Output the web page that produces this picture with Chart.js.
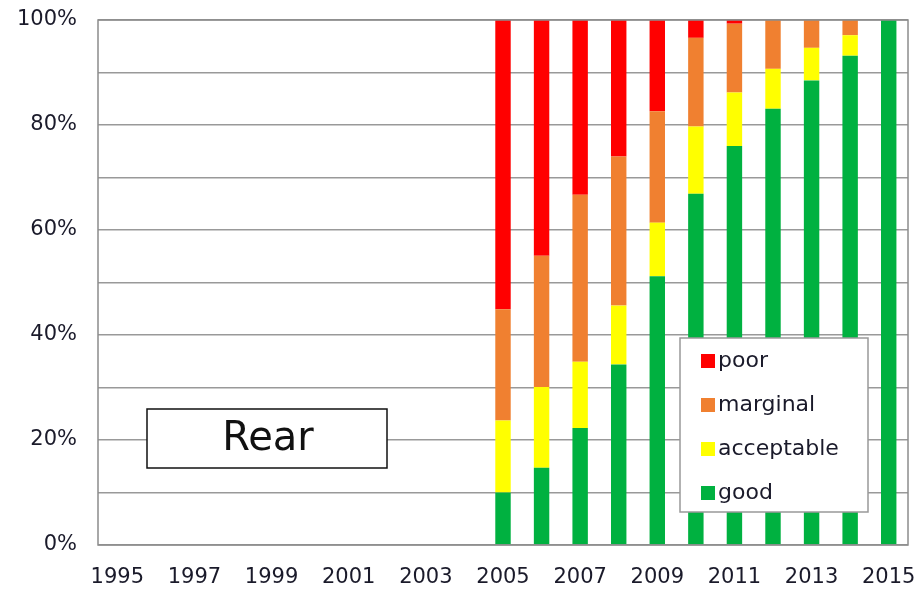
<!DOCTYPE html>
<html>
<head>
<meta charset="utf-8">
<script src="https://cdn.jsdelivr.net/npm/chart.js@4/dist/chart.umd.min.js"></script>
<style>
  html, body { margin: 0; padding: 0; background: #fff; }
  #wrap { width: 918px; height: 590px; position: relative; }
</style>
</head>
<body>
<div id="wrap"><canvas id="chart" width="918" height="590"></canvas></div>
<script>
// Kategorier (år)
const years = ["1995","1996","1997","1998","1999","2000","2001","2002","2003","2004",
               "2005","2006","2007","2008","2009","2010","2011","2012","2013","2014","2015"];

// Andelar i procent per betyg
const good       = [null,null,null,null,null,null,null,null,null,null, 10.0, 14.7, 22.3, 34.4, 51.2, 66.9, 76.0, 83.1, 88.5, 93.2, 100];
const acceptable = [null,null,null,null,null,null,null,null,null,null, 13.7, 15.4, 12.6, 11.2, 10.2, 12.8, 10.2,  7.6,  6.2,  3.9,   0];
const marginal   = [null,null,null,null,null,null,null,null,null,null, 21.2, 25.0, 31.8, 28.4, 21.2, 16.9, 13.1,  9.3,  5.3,  2.9,   0];
const poor       = [null,null,null,null,null,null,null,null,null,null, 55.1, 44.9, 33.3, 26.0, 17.4,  3.4,  0.7,  0,    0,    0,     0];

const yTicks = [0, 20, 40, 60, 80, 100];
const legendOrder = ["poor", "marginal", "acceptable", "good"];

const colors = {
    good: "#00b140",
    acceptable: "#ffff00",
    marginal: "#f08030",
    poor: "#ff0000"
};

const FONT = "'DejaVu Sans', 'Liberation Sans', Arial, sans-serif";

// Plugin för ram, legend och "Rear"-rutan
const overlay = {
    id: "overlay",
    afterDatasetsDraw(chart) {
        const ctx = chart.ctx;
        const a = chart.chartArea;
        ctx.save();
        ctx.strokeStyle = "#8c8c8c";
        ctx.lineWidth = 1.5;
        ctx.strokeRect(a.left, a.top, a.right - a.left, a.bottom - a.top);

        // Rear-ruta
        ctx.fillStyle = "#fff";
        ctx.fillRect(147, 409, 240, 59);
        ctx.strokeStyle = "#111";
        ctx.lineWidth = 1.5;
        ctx.strokeRect(147, 409, 240, 59);
        ctx.fillStyle = "#111";
        ctx.font = "40px " + FONT;
        ctx.textAlign = "center";
        ctx.textBaseline = "middle";
        ctx.fillText("Rear", 268, 440);

        // Legend
        ctx.fillStyle = "#fff";
        ctx.fillRect(680, 338, 188, 174);
        ctx.strokeStyle = "#999";
        ctx.lineWidth = 1.5;
        ctx.strokeRect(680, 338, 188, 174);
        ctx.font = "22px " + FONT;
        ctx.textAlign = "left";
        legendOrder.forEach((name, i) => {
            const y = 361 + i * 44;
            ctx.fillStyle = colors[name];
            ctx.fillRect(701, y - 7, 14, 14);
            ctx.fillStyle = "#1a1a2a";
            ctx.fillText(name, 718, y);
        });
        ctx.restore();
    }
};

new Chart(document.getElementById("chart"), {
    type: "bar",
    data: {
        labels: years,
        datasets: [
            { label: "good", data: good, backgroundColor: colors.good },
            { label: "acceptable", data: acceptable, backgroundColor: colors.acceptable },
            { label: "marginal", data: marginal, backgroundColor: colors.marginal },
            { label: "poor", data: poor, backgroundColor: colors.poor }
        ]
    },
    options: {
        responsive: false,
        animation: false,
        layout: { padding: { top: 20, right: 10, left: 0, bottom: 0 } },
        datasets: { bar: { categoryPercentage: 1, barPercentage: 0.4 } },
        plugins: { legend: { display: false }, tooltip: { enabled: false } },
        scales: {
            x: {
                stacked: true,
                grid: { display: false },
                border: { display: false },
                ticks: {
                    autoSkip: false,
                    maxRotation: 0,
                    color: "#1a1a2a",
                    font: { family: FONT, size: 21 },
                    padding: 12,
                    callback: function (v, i) { return i % 2 === 0 ? years[i] : ""; }
                },
                afterFit: function (s) { s.height = 45; s.paddingLeft = 0; s.paddingRight = 0; }
            },
            y: {
                stacked: true,
                min: 0,
                max: 100,
                grid: { color: "#999", lineWidth: 1.5, drawTicks: false },
                border: { display: false },
                ticks: {
                    stepSize: 10,
                    color: "#1a1a2a",
                    padding: 21,
                    font: { family: FONT, size: 21 },
                    callback: function (v) { return yTicks.includes(v) ? v + "%" : ""; }
                },
                afterFit: function (s) { s.width = 98; s.paddingTop = 0; s.paddingBottom = 0; }
            }
        }
    },
    plugins: [overlay]
});
</script>
</body>
</html>
